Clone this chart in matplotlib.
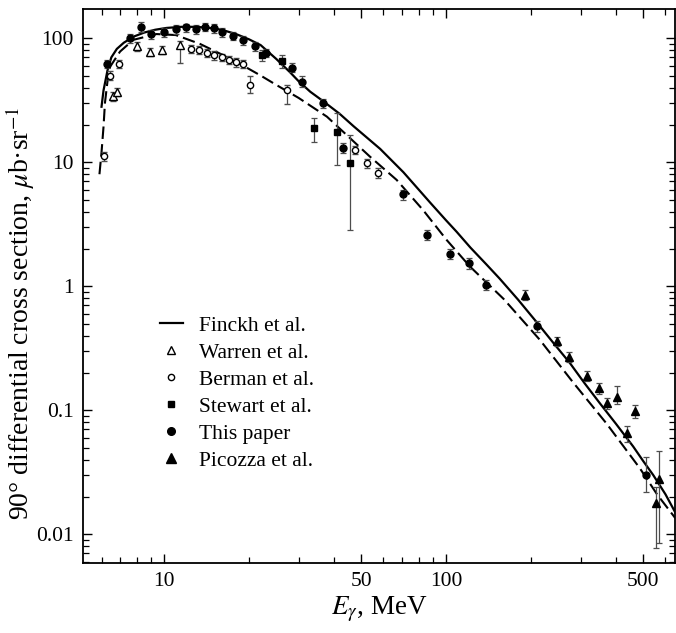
import numpy as np
import matplotlib.pyplot as plt
from matplotlib.lines import Line2D
from matplotlib.ticker import FixedLocator, NullFormatter, FixedFormatter

plt.rcParams['font.family'] = ['Liberation Serif', 'DejaVu Serif']
plt.rcParams['mathtext.fontset'] = 'stix'

# theory curves
e_finckh = [6.0, 6.1, 6.3, 6.5, 6.8, 7.2, 7.8, 8.5, 9.3, 10.2, 11.5, 13.0, 14.5, 16.0, 18.0,
            20.0, 22.0, 25.0, 28.0, 30.0, 33.0, 36.7, 42.0, 47.0, 58.4, 70.6, 88.0, 100, 109, 122, 139,
            155, 180, 210, 240, 275, 310, 352, 400, 461, 500, 543, 600, 650]
s_finckh = [28, 38, 55, 70, 82, 92, 103, 111, 117, 121, 123.5, 123.5, 121, 117, 108,
            98, 88, 68, 53, 45, 37, 31, 24.5, 19.5, 12.8, 8.3, 4.7, 3.4, 2.75, 2.05, 1.5,
            1.15, 0.78, 0.51, 0.35, 0.24, 0.165, 0.113, 0.078, 0.051, 0.039, 0.030, 0.021, 0.015]

e_dash = [5.9, 6.0, 6.1, 6.17, 6.3, 6.44, 6.98, 7.78, 9.4, 11.0, 13.4, 16.0, 19.6, 22.0, 25.0,
          30.0, 37.8, 53.7, 66.8, 83.0, 100.5, 121.6, 160, 215, 282, 371, 487, 560, 650]
s_dash = [8.0, 12, 19.4, 30, 45, 59, 78, 97, 108, 106, 90, 74, 58, 50, 42,
          33, 23.3, 11.1, 7.2, 4.1, 2.36, 1.44, 0.79, 0.37, 0.168, 0.078, 0.034, 0.021, 0.0135]

# Warren et al.
e_warren = [6.6, 6.8, 8.0, 8.9, 9.8, 11.4]
s_warren = [34, 37, 86, 78, 80, 88]
lo_warren = [3, 3, 7, 6, 6, 25]
hi_warren = [3, 3, 7, 6, 6, 7]

# Berman et al.
e_berman = [6.1, 6.45, 6.9, 12.5, 13.3, 14.2, 15.0, 16.0, 17.0, 18.0, 19.0, 20.2, 27.2, 47.5, 52.3, 57.5]
s_berman = [11.2, 50, 62, 82, 80, 76, 73, 70, 67, 64, 62, 42, 38.3, 12.6, 9.8, 8.2]
lo_berman = [1.0, 4, 5, 6, 6, 6, 6, 5, 5, 5, 5, 6, 9, 1.0, 0.8, 0.7]
hi_berman = [1.0, 4, 5, 6, 6, 6, 6, 5, 5, 5, 5, 8, 4, 1.0, 0.8, 0.7]

# Stewart et al.
e_stewart = [22.2, 26.1, 33.9, 40.9, 45.6]
s_stewart = [73, 65, 18.8, 17.6, 9.8]
lo_stewart = [8, 8, 4.2, 8.1, 6.95]
hi_stewart = [8, 8, 3.8, 7.2, 6.8]

# This paper
e_this = [6.3, 7.6, 8.3, 9.0, 10.0, 11.0, 12.0, 13.0, 14.0, 15.0, 16.0, 17.5, 19.0, 21.0,
          23.0, 28.5, 30.8, 36.7, 43.2, 70.6, 85.8, 103, 121, 139, 210, 510]
s_this = [62, 100, 124, 108, 112, 118, 122, 118, 124, 120, 112, 104, 96, 86,
          76, 58, 44.7, 30, 13, 5.5, 2.6, 1.83, 1.53, 1.03, 0.475, 0.030]
lo_this = [5, 8, 11, 9, 9, 9, 9, 9, 9, 9, 9, 8, 8, 7,
           6, 5, 4, 2.5, 1.2, 0.5, 0.25, 0.17, 0.15, 0.1, 0.045, 0.008]
hi_this = [5, 8, 11, 9, 9, 9, 9, 9, 9, 9, 9, 8, 8, 7,
           6, 5, 5, 2.5, 1.2, 0.5, 0.25, 0.17, 0.15, 0.1, 0.045, 0.012]

# Picozza et al.
e_picozza = [190.6, 247, 273, 317, 349, 372, 404, 438, 468, 556, 570]
s_picozza = [0.85, 0.36, 0.27, 0.19, 0.151, 0.114, 0.128, 0.065, 0.099, 0.018, 0.028]
lo_picozza = [0.08, 0.03, 0.025, 0.018, 0.015, 0.012, 0.015, 0.01, 0.012, 0.0103, 0.0195]
hi_picozza = [0.08, 0.03, 0.025, 0.018, 0.015, 0.012, 0.03, 0.01, 0.012, 0.006, 0.019]

fig = plt.figure(figsize=(6.76, 6.33), dpi=100)
ax = fig.add_axes([0.1232, 0.1111, 0.876, 0.8747])

ax.plot(e_finckh, s_finckh, color='black', lw=1.6, zorder=3)
ax.plot(e_dash, s_dash, color='black', lw=1.5, dashes=(6, 2.5), zorder=3)

eb = dict(ecolor='0.3', elinewidth=0.9, capsize=2.2, capthick=0.9, ls='none', zorder=4)
ax.errorbar(e_warren, s_warren, yerr=[lo_warren, hi_warren], fmt='^', ms=5.5,
            mfc='white', mec='black', mew=1.0, **eb)
ax.errorbar(e_berman, s_berman, yerr=[lo_berman, hi_berman], fmt='o', ms=4.5,
            mfc='white', mec='black', mew=1.0, **eb)
ax.errorbar(e_stewart, s_stewart, yerr=[lo_stewart, hi_stewart], fmt='s', ms=4.0,
            color='black', **eb)
ax.errorbar(e_this, s_this, yerr=[lo_this, hi_this], fmt='o', ms=5.0,
            color='black', **eb)
ax.errorbar(e_picozza, s_picozza, yerr=[lo_picozza, hi_picozza], fmt='^', ms=6.0,
            color='black', **eb)

ax.set_xscale('log')
ax.set_yscale('log')
ax.set_xlim(5.17, 651)
ax.set_ylim(0.0059, 172)

ax.xaxis.set_major_locator(FixedLocator([10, 50, 100, 500]))
ax.xaxis.set_major_formatter(FixedFormatter(['10', '50', '100', '500']))
ax.xaxis.set_minor_locator(FixedLocator([6, 7, 8, 9, 20, 30, 40, 60, 70, 80, 90,
                                         200, 300, 400, 600]))
ax.xaxis.set_minor_formatter(NullFormatter())
ax.yaxis.set_major_locator(FixedLocator([0.01, 0.1, 1, 10, 100]))
ax.yaxis.set_major_formatter(FixedFormatter(['0.01', '0.1', '1', '10', '100']))
ax.yaxis.set_minor_locator(FixedLocator([m * 10.0 ** d for d in range(-3, 3) for m in range(2, 10)]))
ax.yaxis.set_minor_formatter(NullFormatter())

ax.tick_params(which='both', direction='in', top=True, right=True, labelsize=15.5)
ax.tick_params(which='major', length=6.5, width=1.0, pad=7)
ax.tick_params(which='minor', length=4.0, width=0.9)
for sp in ax.spines.values():
    sp.set_linewidth(1.3)

ax.set_xlabel(r'$E_\gamma$, MeV', fontsize=19.5, labelpad=2)
ax.set_ylabel(r'90° differential cross section, $\mu$b·sr$^{-1}$', fontsize=20)
ax.yaxis.set_label_coords(-0.078, 0.45)

handles = [
    Line2D([], [], color='black', lw=1.6),
    Line2D([], [], ls='none', marker='^', ms=5.5, mfc='white', mec='black', mew=1.0),
    Line2D([], [], ls='none', marker='o', ms=4.5, mfc='white', mec='black', mew=1.0),
    Line2D([], [], ls='none', marker='s', ms=5, color='black'),
    Line2D([], [], ls='none', marker='o', ms=5.5, color='black'),
    Line2D([], [], ls='none', marker='^', ms=7, color='black'),
]
labels = ['Finckh et al.', 'Warren et al.', 'Berman et al.', 'Stewart et al.',
          'This paper', 'Picozza et al.']
ax.legend(handles, labels, loc='upper left', bbox_to_anchor=(0.1295, 0.446),
          frameon=False, fontsize=15.5, handlelength=1.05, handletextpad=0.75,
          labelspacing=0.32, borderaxespad=0, borderpad=0)

fig.savefig('out.png', dpi=100)
